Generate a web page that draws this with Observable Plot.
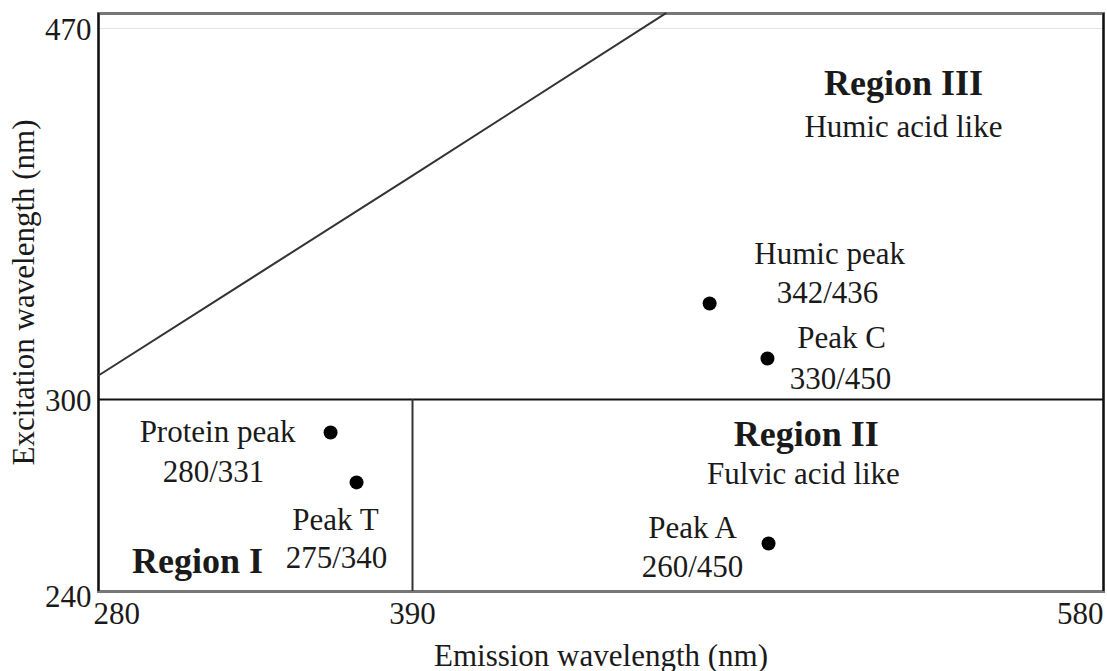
<!DOCTYPE html>
<html><head><meta charset="utf-8">
<script src="https://cdn.jsdelivr.net/npm/d3@7"></script>
<script src="https://cdn.jsdelivr.net/npm/@observablehq/plot@0.6"></script>
<style>body{margin:0;background:#fff}</style>
</head><body><div id="chart"></div>
<script>
// Axis ticks (schematic, piecewise axes)
const xTicks = [280, 390, 580];
const yTicks = [240, 300, 470];

// Peak markers (positions as drawn in the schematic)
const peakNames = ["Protein peak", "Peak T", "Humic peak", "Peak C", "Peak A"];
const peakEm = [361.3, 370.4, 471.7, 487.6, 487.9];
const peakEx = [289.7, 274.1, 344.0, 318.8, 255.0];

// Annotation labels
const labelText = ["Protein peak", "280/331", "Peak T", "275/340", "Humic peak", "342/436",
  "Peak C", "330/450", "Peak A", "260/450", "Humic acid like", "Fulvic acid like"];
const labelEm = [321.7, 320.3, 363.0, 363.4, 504.7, 504.1, 508.0, 507.7, 467.0, 467.0, 525.0, 497.5];
const labelEx = [286.6, 274.1, 259.1, 247.2, 362.3, 344.4, 323.4, 305.0, 256.6, 244.4, 420.1, 273.75];

// Region titles
const regionText = ["Region I", "Region II", "Region III"];
const regionEm = [314.7, 498.3, 525.0];
const regionEx = [245.9, 285.6, 439.3];

// Diagonal boundary line
const diagEm = [280, 390, 459.6];
const diagEx = [311.0, 402.6, 476.9];

// Region boundaries
const boundaryEx = [300];
const boundaryEm = [390];

// Axis extents (the frame reaches slightly above the 470 tick)
const xExtent = [280, 580];
const yExtent = [240, 476.9];

const peaks = peakNames.map((n, i) => ({name: n, em: peakEm[i], ex: peakEx[i]}));
const labels = labelText.map((t, i) => ({t, em: labelEm[i], ex: labelEx[i]}));
const regions = regionText.map((t, i) => ({t, em: regionEm[i], ex: regionEx[i]}));
const diag = diagEm.map((e, i) => ({em: e, ex: diagEx[i]}));

// Piecewise (broken) axes of the schematic: ticks are not evenly spaced
const W = 1107, H = 671, ML = 98, MR = 4, MT = 13, MB = 80;
const fx = (412 - ML) / (W - MR - ML);          // fraction of width at 390
const fy300 = (H - MB - 399) / (H - MB - MT);   // fraction of height at 300
const fy470 = (H - MB - 28) / (H - MB - MT);    // fraction of height at 470
const xWarp = d3.scaleLinear().domain(xTicks)
  .range([xExtent[0], xExtent[0] + (xExtent[1] - xExtent[0]) * fx, xExtent[1]]);
const ySpan = yExtent[1] - yExtent[0];
const yWarp = d3.scaleLinear().domain(yTicks)
  .range([yExtent[0], yExtent[0] + ySpan * fy300, yExtent[0] + ySpan * fy470]);

const font = "Liberation Serif";
const ink = "#1a1a1a";

const chart = Plot.plot({
  width: W,
  height: H,
  marginLeft: ML,
  marginRight: MR,
  marginTop: MT,
  marginBottom: MB,
  style: {fontFamily: font, fontSize: "31px", background: "white", color: ink},
  x: {domain: xExtent, transform: (d) => xWarp(d)},
  y: {domain: yExtent, transform: (d) => yWarp(d)},
  marks: [
    Plot.ruleY([yTicks[2]], {stroke: "#e2e2e2", strokeWidth: 1}),
    Plot.frame({stroke: "#777", strokeWidth: 3}),
    Plot.ruleX([xTicks[0], xTicks[2]], {stroke: "#111", strokeWidth: 2}),
    Plot.ruleY(boundaryEx, {x1: xTicks[0], x2: xTicks[2], stroke: "#111", strokeWidth: 2}),
    Plot.ruleX(boundaryEm, {y1: yTicks[0], y2: yTicks[1], stroke: "#333", strokeWidth: 2}),
    Plot.line(diag, {x: "em", y: "ex", stroke: "#333", strokeWidth: 2}),
    Plot.dot(peaks, {x: "em", y: "ex", r: 7, fill: "#000"}),
    Plot.text(labels, {x: "em", y: "ex", text: "t", lineAnchor: "bottom", fontSize: 31, fill: ink}),
    Plot.text(regions, {x: "em", y: "ex", text: "t", lineAnchor: "bottom", fontSize: 36, fontWeight: "bold", fill: ink}),
    Plot.axisX([xTicks[0]], {tickSize: 0, tickPadding: 10, textAnchor: "start", dx: -5, fontSize: 31, label: null}),
    Plot.axisX([xTicks[1]], {tickSize: 0, tickPadding: 10, fontSize: 31, label: null}),
    Plot.axisX([xTicks[2]], {tickSize: 0, tickPadding: 10, textAnchor: "end", fontSize: 31, label: null}),
    Plot.axisY([yTicks[1], yTicks[2]], {tickSize: 0, tickPadding: 7, dy: 2, fontSize: 31, label: null}),
    Plot.axisY([yTicks[0]], {tickSize: 0, tickPadding: 7, dy: 6, fontSize: 31, label: null}),
    Plot.text(["Emission wavelength (nm)"], {frameAnchor: "bottom", textAnchor: "middle", lineAnchor: "bottom", dy: 74, fontSize: 31, fill: ink}),
    Plot.text(["Excitation wavelength (nm)"], {frameAnchor: "left", textAnchor: "middle", rotate: -90, dx: -74, dy: -10, fontSize: 31, fill: ink})
  ]
});
document.getElementById("chart").appendChild(chart);
</script>
</body></html>
